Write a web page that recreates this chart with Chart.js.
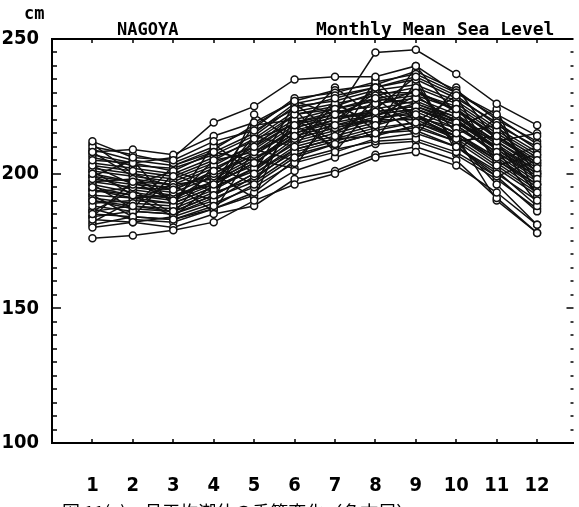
<!DOCTYPE html>
<html>
<head>
<meta charset="utf-8">
<script src="https://cdn.jsdelivr.net/npm/chart.js@4"></script>
<style>
  html, body { margin: 0; padding: 0; background: #fff; }
  canvas { display: block; }
</style>
</head>
<body>
<canvas id="seaLevel" width="579" height="507"></canvas>
<script>
/* months on the x axis */
const months = [1, 2, 3, 4, 5, 6, 7, 8, 9, 10, 11, 12];

/* y tick labels */
const yTicks = [100, 150, 200, 250];

/* monthly mean sea level, one row per year (cm) */
const yr01 = [176, 177, 179, 182, 190, 196, 200, 206, 208, 203, 193, 181];
const yr02 = [180, 182, 180, 185, 188, 198, 201, 207, 210, 205, 191, 178];
const yr03 = [212, 206, 205, 212, 216, 224, 228, 232, 236, 229, 218, 210];
const yr04 = [208, 209, 207, 214, 219, 227, 222, 245, 246, 237, 226, 218];
const yr05 = [205, 204, 206, 219, 225, 235, 236, 236, 240, 230, 222, 214];
const yr06 = [200, 197, 194, 201, 210, 222, 224, 228, 230, 224, 214, 205];
const yr07 = [190, 188, 186, 192, 200, 210, 214, 218, 222, 215, 206, 196];
const yr08 = [195, 192, 190, 196, 204, 214, 218, 220, 223, 217, 208, 198];
const yr09 = [185, 184, 183, 188, 196, 206, 211, 215, 216, 210, 200, 190];
const yr10 = [198, 196, 195, 200, 208, 218, 222, 226, 228, 222, 212, 202];
const yr11 = [203, 201, 199, 205, 213, 223, 226, 229, 232, 226, 216, 207];
const yr12 = [188, 186, 185, 190, 199, 208, 212, 216, 219, 213, 203, 193];
const yr13 = [193, 195, 193, 199, 207, 216, 220, 223, 225, 219, 210, 200];
const yr14 = [207, 204, 201, 208, 215, 226, 229, 232, 235, 228, 219, 209];
const yr15 = [183, 182, 184, 189, 195, 204, 208, 213, 215, 210, 201, 188];
const yr16 = [197, 198, 196, 198, 206, 213, 217, 221, 222, 215, 205, 196];
const yr17 = [201, 199, 197, 203, 211, 220, 224, 227, 229, 224, 213, 204];
const yr18 = [191, 189, 188, 194, 202, 211, 215, 219, 221, 214, 204, 194];
const yr19 = [186, 188, 187, 193, 198, 209, 213, 214, 218, 212, 196, 181];
const yr20 = [199, 194, 192, 197, 205, 215, 220, 224, 227, 221, 211, 201];
const yr21 = [210, 207, 204, 210, 217, 228, 230, 234, 237, 230, 221, 211];
const yr22 = [187, 183, 182, 187, 193, 205, 209, 212, 213, 208, 199, 186];
const yr23 = [196, 193, 191, 197, 203, 217, 221, 222, 226, 220, 209, 200];
const yr24 = [204, 202, 200, 206, 212, 222, 225, 230, 230, 225, 215, 206];
const yr25 = [189, 190, 189, 195, 201, 212, 216, 220, 220, 214, 205, 195];
const yr26 = [194, 191, 189, 195, 202, 213, 217, 220, 224, 218, 207, 197];
const yr27 = [202, 200, 198, 204, 210, 219, 223, 225, 231, 223, 214, 204];
const yr28 = [184, 186, 185, 191, 197, 207, 211, 215, 217, 212, 202, 192];
const yr29 = [199, 197, 196, 202, 209, 219, 222, 228, 226, 221, 212, 203];
const yr30 = [192, 191, 192, 196, 204, 214, 218, 222, 224, 219, 209, 199];
const yr31 = [206, 203, 202, 207, 214, 225, 227, 231, 233, 227, 217, 208];
const yr32 = [181, 184, 183, 187, 192, 201, 206, 211, 212, 207, 198, 187];
const yr33 = [197, 195, 194, 200, 207, 217, 221, 223, 225, 220, 210, 201];
const yr34 = [209, 205, 203, 209, 218, 227, 231, 233, 238, 231, 220, 212];
const yr35 = [190, 187, 186, 192, 200, 209, 213, 217, 219, 214, 190, 178];
const yr36 = [194, 192, 191, 197, 205, 215, 219, 222, 224, 218, 208, 199];
const yr37 = [203, 196, 201, 196, 214, 210, 226, 218, 232, 215, 218, 200];
const yr38 = [186, 194, 185, 203, 196, 220, 212, 228, 217, 225, 205, 210];
const yr39 = [208, 199, 190, 205, 208, 216, 232, 221, 229, 219, 212, 192];
const yr40 = [182, 190, 196, 186, 209, 205, 220, 230, 222, 212, 214, 203];
const yr41 = [199, 205, 188, 211, 200, 226, 215, 224, 236, 208, 221, 196];
const yr42 = [192, 184, 200, 193, 213, 218, 210, 235, 219, 229, 203, 207];
const yr43 = [211, 200, 195, 190, 222, 212, 227, 216, 240, 222, 209, 189];
const yr44 = [184, 197, 190, 200, 191, 224, 208, 226, 214, 232, 212, 215];
const yr45 = [196, 187, 203, 208, 205, 202, 225, 212, 234, 210, 199, 205];
const yr46 = [201, 192, 184, 196, 218, 220, 218, 232, 221, 217, 224, 191];

const years = [yr01, yr02, yr03, yr04, yr05, yr06, yr07, yr08, yr09, yr10, yr11, yr12,
               yr13, yr14, yr15, yr16, yr17, yr18, yr19, yr20, yr21, yr22, yr23, yr24,
               yr25, yr26, yr27, yr28, yr29, yr30, yr31, yr32, yr33, yr34, yr35, yr36,
               yr37, yr38, yr39, yr40, yr41, yr42, yr43, yr44, yr45, yr46];

const monoFont = "'DejaVu Sans Mono', monospace";
const tickFont = "'DejaVu Sans Condensed', 'DejaVu Sans', sans-serif";

/* frame ticks, titles and caption */
const frameDecor = {
    id: 'frameDecor',
    afterDraw(chart) {
        const ctx = chart.ctx;
        const a = chart.chartArea;
        const xs = chart.scales.x;
        const ys = chart.scales.y;
        ctx.save();
        ctx.strokeStyle = '#000';
        ctx.fillStyle = '#000';

        // top border
        ctx.lineWidth = 2;
        ctx.beginPath();
        ctx.moveTo(a.left, a.top);
        ctx.lineTo(a.right, a.top);
        ctx.stroke();

        // month ticks on top and bottom
        ctx.lineWidth = 1.5;
        months.forEach(m => {
            const px = Math.round(xs.getPixelForValue(m));
            ctx.beginPath();
            ctx.moveTo(px, a.top);
            ctx.lineTo(px, a.top + 4);
            ctx.moveTo(px, a.bottom);
            ctx.lineTo(px, a.bottom - 4);
            ctx.stroke();
        });

        // minor ticks every 5 cm on left, dashes on right
        for (let v = 105; v < 250; v += 5) {
            const py = Math.round(ys.getPixelForValue(v));
            const major = v % 50 === 0;
            ctx.beginPath();
            ctx.moveTo(a.left, py);
            ctx.lineTo(a.left + (major ? 9 : 5), py);
            ctx.moveTo(a.right, py);
            ctx.lineTo(a.right - (major ? 7 : 3), py);
            ctx.stroke();
        }

        // titles
        ctx.font = "bold 17px " + monoFont;
        ctx.textBaseline = 'alphabetic';
        ctx.textAlign = 'left';
        ctx.fillText('cm', 24, 19);
        ctx.fillText('NAGOYA', 117, 35);
        ctx.font = "bold 18px " + monoFont;
        ctx.fillText('Monthly Mean Sea Level', 316, 35);

        // caption, cut by the lower edge
        ctx.font = "18px 'Noto Sans CJK JP'";
        ctx.textBaseline = 'top';
        ctx.fillText('図 11(a)　月平均潮位の季節変化（名古屋）', 62, 503);
        ctx.restore();
    }
};

const datasets = years.map(vals => ({
    data: months.map((m, i) => ({ x: m, y: vals[i] })),
    borderColor: '#111',
    borderWidth: 1.5,
    backgroundColor: '#fff',
    pointRadius: 3.5,
    pointBorderWidth: 1.5,
    pointBorderColor: '#111',
    pointBackgroundColor: '#fff',
    tension: 0
}));

new Chart(document.getElementById('seaLevel'), {
    type: 'line',
    data: { datasets: datasets },
    options: {
        responsive: false,
        animation: false,
        events: [],
        layout: { padding: { top: 39, right: 2, left: 0, bottom: 0 } },
        plugins: {
            legend: { display: false },
            tooltip: { enabled: false }
        },
        scales: {
            x: {
                type: 'linear',
                min: 0,
                max: 12.9,
                afterFit: s => {
                    s.height = 64;
                    s.paddingLeft = 0;
                    s.paddingRight = 0;
                },
                afterBuildTicks: s => { s.ticks = months.map(m => ({ value: m })); },
                ticks: {
                    autoSkip: false,
                    maxRotation: 0,
                    padding: 31,
                    color: '#000',
                    font: { family: tickFont, size: 20, weight: 'bold' },
                    callback: v => String(v)
                },
                grid: { display: false, drawTicks: false },
                border: { display: true, color: '#000', width: 2 }
            },
            y: {
                min: 100,
                max: 250,
                afterFit: s => {
                    s.width = 52;
                    s.paddingTop = 0;
                    s.paddingBottom = 0;
                },
                afterBuildTicks: s => { s.ticks = yTicks.map(v => ({ value: v })); },
                ticks: {
                    padding: 13,
                    color: '#000',
                    font: { family: tickFont, size: 20, weight: 'bold' },
                    callback: v => String(v)
                },
                grid: { display: false, drawTicks: false },
                border: { display: true, color: '#000', width: 2 }
            }
        }
    },
    plugins: [frameDecor]
});
</script>
</body>
</html>
